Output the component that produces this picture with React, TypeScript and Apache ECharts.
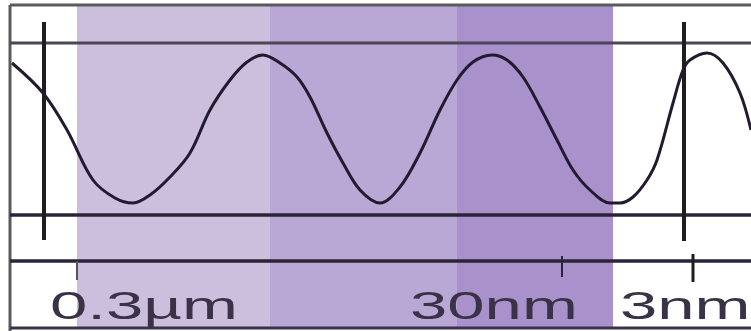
import React, { useEffect, useRef } from "react";
import * as echarts from "echarts";

// Wave trace (horizontal position, vertical position; y measured downward)
const waveX = [12, 43, 67, 93, 115, 133, 150, 170, 190, 210, 230, 247, 263, 280, 297, 310, 327, 343, 360, 380, 400, 420, 440, 457, 473, 492, 507, 523, 540, 557, 573, 590, 610, 620, 633, 647, 657, 673, 683, 690, 707, 723, 740, 751];
const waveY = [63, 93, 130, 180, 198, 203, 195, 177, 153, 110, 80, 62, 55, 63, 77, 97, 133, 163, 190, 203, 187, 153, 110, 80, 62, 55, 60, 77, 107, 140, 170, 190, 203, 203, 197, 180, 160, 103, 70, 60, 53, 63, 93, 130];

// Shaded bands: edges along x
const bandEdges = [77, 270, 457, 613];
const bandColors = ["#cbbfdd", "#b9a7d6", "#a991cc"];

// Labels
const labels = ["0.3µm", "30nm", "3nm"];
const labelX = [50, 410, 620];

export default function App() {
  const ref = useRef<HTMLDivElement>(null);
  useEffect(() => {
    if (!ref.current) return;
    const chart = echarts.init(ref.current, undefined, { renderer: "svg" });

    const seg = (x1: number, y1: number, x2: number, y2: number, color: string, width: number, z = 2) => ({
      type: "line",
      data: [[x1, y1], [x2, y2]],
      symbol: "none",
      silent: true,
      z,
      lineStyle: { color, width, cap: "butt" },
    });

    const bandAreas = bandColors.map((c, i) => [
      { coord: [bandEdges[i], 5], itemStyle: { color: c } },
      { coord: [bandEdges[i + 1], 328] },
    ]);

    const series: any[] = [
      {
        type: "line",
        data: [],
        z: 1,
        markArea: { silent: true, data: bandAreas, itemStyle: { opacity: 1 } },
      },
      // frame
      seg(10, 5, 751, 5, "#5a5a5a", 3),
      seg(10, 5, 10, 331, "#5a5a5a", 3),
      seg(10, 328, 751, 328, "#3a3148", 3),
      // horizontal rules
      seg(10, 43, 751, 43, "#4a4656", 3),
      seg(10, 215, 751, 215, "#2b2438", 3.5),
      seg(10, 261, 751, 261, "#2b2438", 3.5),
      // vertical markers
      seg(44, 22, 44, 240, "#1e1e1e", 4),
      seg(684, 22, 684, 241, "#1e1e1e", 4),
      // ticks
      seg(77, 261, 77, 280, "#555", 2),
      seg(562, 256, 562, 277, "#2b2438", 2),
      seg(693, 254, 693, 282, "#1e1e1e", 3),
      {
        type: "line",
        data: waveX.map((x, i) => [x, waveY[i]]),
        symbol: "none",
        smooth: 0.35,
        z: 5,
        lineStyle: { color: "#221b30", width: 3 },
      },
    ];

    chart.setOption({
      animation: false,
      backgroundColor: "#ffffff",
      grid: { left: 0, right: 0, top: 0, bottom: 0 },
      xAxis: { type: "value", min: 0, max: 751, show: false },
      yAxis: { type: "value", min: 0, max: 331, inverse: true, show: false },
      series,
      graphic: labels.map((t, i) => ({
        type: "text",
        x: labelX[i],
        y: 305,
        scaleX: 1.72,
        z: 10,
        style: {
          text: t,
          fontSize: 39,
          fontFamily: "Liberation Sans",
          fill: "#3a3348",
          align: "left",
          verticalAlign: "middle",
        },
      })),
    });
    return () => chart.dispose();
  }, []);
  return <div ref={ref} style={{ position: "fixed", left: 0, top: 0, width: 751, height: 331 }} />;
}
